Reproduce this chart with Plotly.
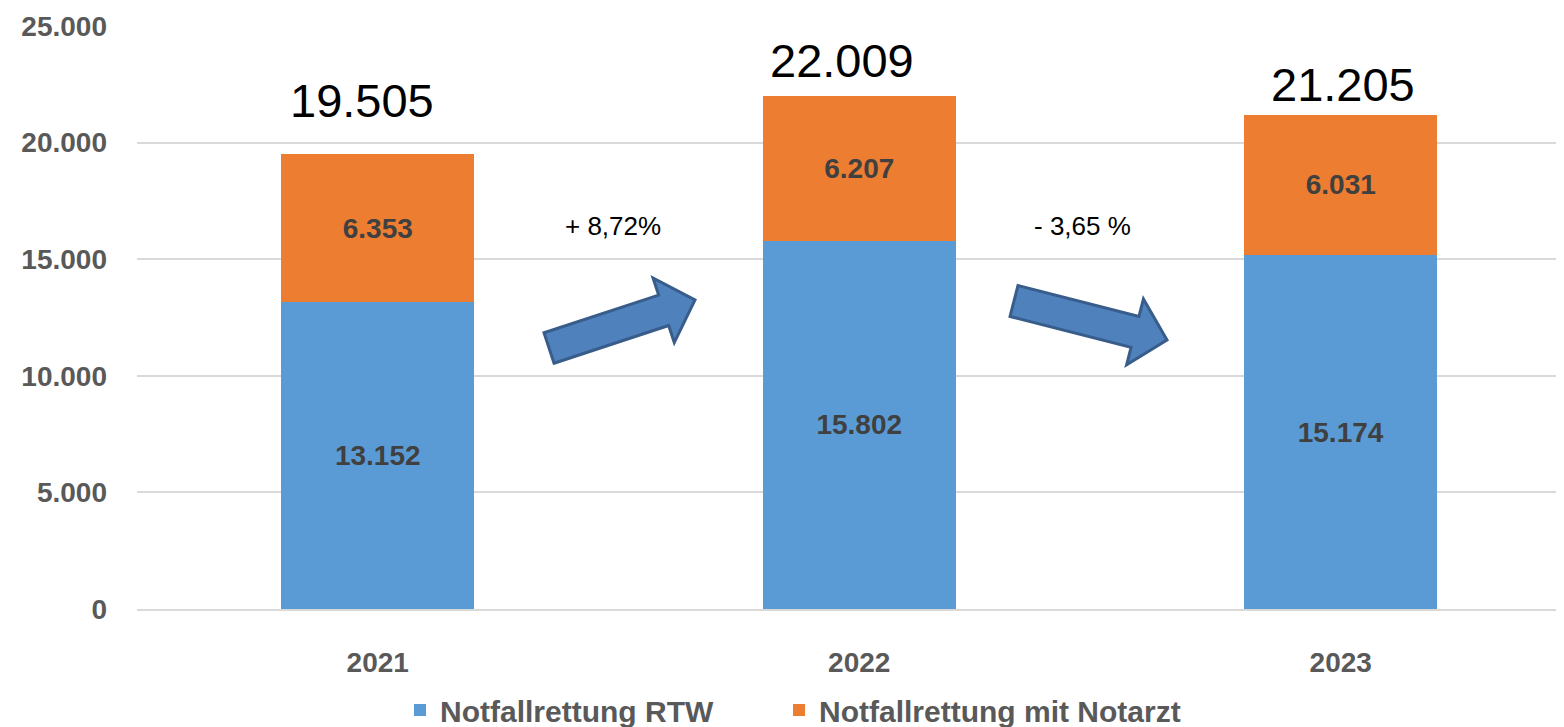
import math
import plotly.graph_objects as go

# data
years = ["2021", "2022", "2023"]
rtw = [13152, 15802, 15174]
notarzt = [6353, 6207, 6031]
totals = [19505, 22009, 21205]
changes = ["+ 8,72%", "- 3,65 %"]
y_ticks = [0, 5000, 10000, 15000, 20000, 25000]

BLUE = "#5B9BD5"
ORANGE = "#ED7D31"
GREY = "#595959"
FONT = "Arial, Liberation Sans, sans-serif"

# page body has an 8px margin, so the figure is made smaller and margins shifted
OFF = 8
W, H = 1564 - 2 * OFF, 727 - OFF
L, R, T, B = 137 - OFF, 0, 26 - OFF, 118
PW, PH = W - L - R, H - T - B


def fmt(v):
    return f"{v:,}".replace(",", ".")


def to_paper(px, py):
    # px, py are screen pixels of the reference picture
    return (px - OFF - L) / PW, (H - B - (py - OFF)) / PH


def arrow_path(tail, tip, shaft_half, head_half, head_len):
    dx, dy = tip[0] - tail[0], tip[1] - tail[1]
    n = math.hypot(dx, dy)
    ux, uy = dx / n, dy / n
    nx, ny = -uy, ux
    bx, by = tip[0] - ux * head_len, tip[1] - uy * head_len
    pts = [
        (tail[0] + nx * shaft_half, tail[1] + ny * shaft_half),
        (bx + nx * shaft_half, by + ny * shaft_half),
        (bx + nx * head_half, by + ny * head_half),
        tip,
        (bx - nx * head_half, by - ny * head_half),
        (bx - nx * shaft_half, by - ny * shaft_half),
        (tail[0] - nx * shaft_half, tail[1] - ny * shaft_half),
    ]
    pp = [to_paper(*p) for p in pts]
    return "M " + " L ".join(f"{x:.5f},{y:.5f}" for x, y in pp) + " Z"


seg_font = dict(family=FONT, size=28, color="#404040", weight="bold")

fig = go.Figure()
fig.add_trace(go.Bar(
    x=years, y=rtw, name="Notfallrettung RTW",
    marker=dict(color=BLUE, line=dict(width=0)),
    text=[fmt(v) for v in rtw], textposition="inside", insidetextanchor="middle",
    textfont=seg_font, width=0.4, legend="legend",
))
fig.add_trace(go.Bar(
    x=years, y=notarzt, name="Notfallrettung mit Notarzt",
    marker=dict(color=ORANGE, line=dict(width=0)),
    text=[fmt(v) for v in notarzt], textposition="inside", insidetextanchor="middle",
    textfont=seg_font, width=0.4, legend="legend2",
))

# totals above bars (x given as category index)
total_offsets = [(-16, 54), (-17, 35), (2, 30)]
for i, (tot, (xs, ys)) in enumerate(zip(totals, total_offsets)):
    fig.add_annotation(x=i, y=tot, text=fmt(tot), showarrow=False,
                       xanchor="center", yanchor="middle",
                       xshift=xs, yshift=ys,
                       font=dict(family=FONT, size=47, color="black"))

# change labels
for (px, py), txt in zip([(613, 226), (1082, 226)], changes):
    xp, yp = to_paper(px, py)
    fig.add_annotation(x=xp, y=yp, xref="paper", yref="paper", text=txt,
                       showarrow=False, xanchor="center", yanchor="middle",
                       font=dict(family=FONT, size=26, color="black"))

# block arrows
fig.add_shape(type="path", xref="paper", yref="paper",
              path=arrow_path((549, 348), (695, 300), 16, 34, 33),
              fillcolor="#4F81BD", line=dict(color="#385D8A", width=3))
fig.add_shape(type="path", xref="paper", yref="paper",
              path=arrow_path((1014, 301), (1167, 340), 16, 34, 33),
              fillcolor="#4F81BD", line=dict(color="#385D8A", width=3))

leg_font = dict(family=FONT, size=30, color=GREY, weight="bold")
l1x, ly = to_paper(400, 710)
l2x, _ = to_paper(779, 710)
fig.update_layout(
    barmode="stack",
    width=W, height=H,
    margin=dict(l=L, r=R, t=T, b=B, autoexpand=False),
    plot_bgcolor="white", paper_bgcolor="white",
    font=dict(family=FONT, color=GREY),
    showlegend=True,
    legend=dict(orientation="h", x=l1x, xanchor="left", y=ly, yanchor="middle",
                font=leg_font, itemwidth=30),
    legend2=dict(orientation="h", x=l2x, xanchor="left", y=ly, yanchor="middle",
                 font=leg_font, itemwidth=30),
)
fig.update_xaxes(type="category", range=[-0.5, -0.5 + PW / 481.5], showgrid=False,
                 showline=True, linecolor="#D9D9D9", linewidth=2,
                 tickfont=dict(size=28, color=GREY, weight="bold"), ticks="",
                 ticklabelstandoff=27)
fig.update_yaxes(range=[0, 25000], showgrid=True, gridcolor="#D9D9D9", gridwidth=2,
                 zeroline=False, tickvals=y_ticks,
                 ticktext=[fmt(v) for v in y_ticks],
                 ticks="", ticklabelstandoff=29,
                 tickfont=dict(size=28, color=GREY, weight="bold"))

fig.write_html("out.html")
